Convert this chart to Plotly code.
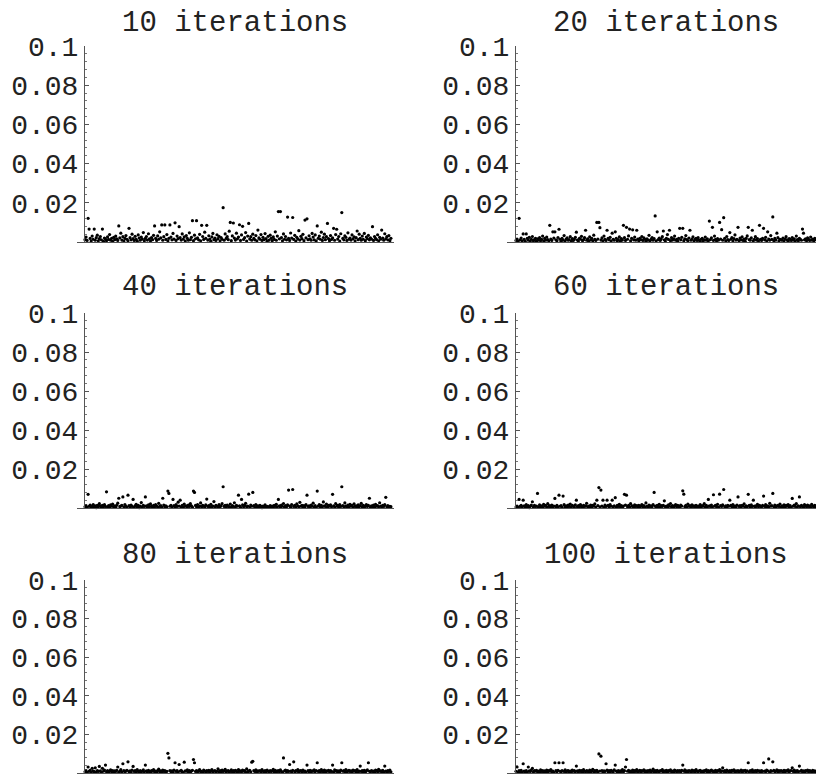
import plotly.graph_objects as go

# Panel titles (number of iterations per run)
titles = ["10 iterations", "20 iterations", "40 iterations",
          "60 iterations", "80 iterations", "100 iterations"]

# Per-sample error values, stored in units of 1e-4
err_10 = [
    12, 25, 8, 121, 66, 18, 5, 30, 14, 66, 9, 22, 35, 6, 17, 28, 11, 66, 4, 20,
    15, 7, 26, 13, 38, 9, 19, 3, 24, 12, 30, 16, 8, 82, 21, 45, 10, 27, 5, 18,
    33, 14, 6, 70, 22, 11, 40, 17, 8, 29, 13, 4, 36, 20, 9, 25, 15, 48, 7, 19,
    28, 10, 42, 16, 5, 23, 12, 34, 82, 18, 8, 31, 14, 52, 21, 87, 9, 27, 87, 13,
    38, 6, 19, 87, 25, 11, 44, 15, 98, 8, 30, 17, 78, 22, 10, 41, 14, 26, 5, 33,
    18, 9, 47, 12, 24, 109, 7, 35, 16, 109, 21, 11, 39, 6, 85, 28, 13, 50, 19, 85,
    10, 32, 15, 4, 26, 44, 12, 20, 8, 37, 17, 29, 6, 23, 14, 175, 9, 41, 18, 27,
    12, 55, 100, 7, 31, 97, 20, 10, 45, 16, 25, 88, 8, 36, 80, 13, 22, 48, 5, 30,
    95, 15, 27, 9, 40, 18, 11, 33, 6, 61, 21, 14, 38, 8, 24, 12, 43, 17, 4, 29,
    10, 35, 19, 7, 26, 13, 52, 9, 30, 155, 16, 155, 22, 6, 41, 14, 28, 11, 127, 18,
    8, 46, 20, 125, 13, 34, 5, 24, 15, 58, 10, 29, 17, 39, 7, 112, 21, 118, 12, 32,
    16, 9, 44, 25, 11, 36, 6, 82, 19, 30, 14, 50, 8, 23, 40, 12, 27, 95, 17, 7,
    33, 13, 21, 70, 9, 38, 65, 15, 28, 5, 42, 150, 18, 11, 31, 24, 8, 47, 14, 20,
    10, 36, 16, 26, 6, 22, 56, 12, 40, 19, 9, 30, 14, 44, 7, 25, 17, 34, 11, 21,
    15, 78, 8, 28, 18, 12, 37, 6, 24, 14, 61, 20, 9, 42, 16, 27, 11, 33, 7, 19,
]

err_20 = [
    8, 15, 4, 121, 11, 20, 6, 41, 13, 3, 41, 18, 9, 24, 5, 14, 28, 7, 12, 19,
    4, 16, 10, 22, 7, 13, 30, 5, 18, 9, 25, 12, 6, 85, 15, 8, 52, 20, 52, 11,
    7, 23, 65, 14, 4, 18, 10, 33, 6, 15, 21, 9, 12, 27, 5, 17, 8, 13, 24, 50,
    10, 5, 19, 14, 29, 7, 12, 22, 60, 9, 16, 4, 26, 11, 18, 6, 35, 13, 8, 100,
    15, 100, 73, 10, 21, 6, 30, 13, 8, 60, 18, 11, 24, 5, 45, 14, 9, 52, 19, 7,
    12, 26, 4, 17, 10, 85, 22, 8, 75, 14, 31, 66, 6, 19, 62, 11, 25, 9, 60, 15,
    5, 18, 12, 28, 8, 21, 14, 4, 16, 10, 34, 7, 13, 23, 9, 17, 133, 6, 52, 12,
    20, 8, 15, 27, 56, 11, 5, 18, 38, 13, 60, 7, 22, 10, 16, 30, 9, 14, 4, 19,
    70, 11, 24, 70, 7, 16, 33, 12, 6, 20, 60, 9, 15, 26, 5, 13, 18, 8, 22, 10,
    4, 14, 19, 7, 11, 25, 9, 16, 6, 107, 12, 21, 75, 8, 30, 13, 5, 17, 10, 100,
    15, 63, 9, 124, 19, 6, 28, 12, 8, 48, 14, 22, 5, 17, 36, 10, 13, 75, 7, 20,
    11, 26, 8, 15, 4, 18, 31, 75, 12, 9, 21, 60, 6, 14, 27, 10, 17, 5, 85, 13,
    8, 19, 70, 11, 24, 6, 52, 15, 9, 33, 13, 128, 7, 18, 10, 45, 22, 5, 14, 12,
    9, 20, 6, 15, 27, 11, 4, 17, 13, 8, 23, 10, 16, 5, 30, 12, 7, 19, 14, 9,
    66, 45, 11, 16, 6, 21, 13, 8, 25, 10, 15, 5, 18, 12, 7, 22, 9, 14, 11, 6,
]

err_40 = [
    6, 12, 3, 70, 9, 15, 4, 8, 18, 5, 11, 2, 14, 7, 22, 10, 4, 13, 6, 17,
    8, 83, 5, 12, 3, 16, 9, 20, 6, 11, 4, 14, 25, 50, 7, 10, 13, 57, 5, 18,
    9, 3, 66, 12, 6, 15, 8, 44, 4, 11, 19, 7, 13, 2, 10, 28, 5, 14, 8, 57,
    11, 4, 16, 7, 21, 9, 3, 13, 6, 18, 10, 5, 24, 8, 12, 4, 50, 15, 7, 11,
    6, 87, 75, 9, 14, 5, 44, 12, 3, 17, 8, 30, 10, 40, 6, 13, 4, 20, 9, 11,
    5, 15, 8, 22, 11, 4, 87, 80, 13, 7, 18, 3, 10, 26, 6, 14, 9, 5, 16, 46,
    8, 12, 4, 19, 7, 10, 33, 5, 14, 9, 3, 17, 6, 11, 22, 109, 8, 13, 4, 15,
    10, 6, 20, 3, 12, 8, 27, 5, 14, 9, 66, 11, 4, 44, 16, 7, 13, 24, 6, 10,
    71, 5, 15, 9, 80, 12, 3, 18, 7, 11, 4, 14, 8, 2, 10, 6, 16, 4, 9, 3,
    7, 12, 5, 10, 3, 14, 8, 19, 6, 44, 11, 4, 15, 9, 23, 5, 12, 7, 16, 92,
    10, 4, 18, 95, 8, 13, 5, 21, 11, 7, 29, 9, 14, 3, 12, 6, 17, 66, 8, 11,
    4, 15, 9, 25, 6, 12, 3, 87, 10, 18, 7, 14, 5, 31, 11, 8, 20, 4, 13, 9,
    16, 6, 70, 11, 5, 22, 9, 14, 3, 17, 8, 109, 12, 7, 26, 10, 4, 15, 6, 19,
    9, 13, 5, 21, 8, 11, 3, 16, 7, 12, 24, 6, 14, 4, 10, 18, 8, 13, 50, 5,
    11, 7, 15, 4, 19, 9, 12, 6, 27, 10, 5, 14, 8, 17, 55, 6, 12, 4, 9, 7,
]

err_60 = [
    5, 10, 3, 44, 8, 14, 6, 40, 11, 4, 17, 7, 12, 2, 9, 15, 32, 5, 13, 8,
    10, 75, 4, 16, 7, 11, 3, 19, 9, 13, 5, 22, 8, 12, 4, 15, 6, 10, 49, 7,
    14, 5, 66, 9, 12, 4, 61, 17, 7, 11, 3, 15, 8, 20, 6, 13, 9, 4, 16, 40,
    7, 12, 5, 18, 9, 3, 14, 8, 11, 24, 6, 10, 4, 15, 7, 13, 9, 21, 5, 40,
    12, 105, 6, 92, 10, 40, 4, 15, 8, 40, 13, 5, 17, 9, 40, 7, 11, 53, 4, 14,
    8, 19, 6, 12, 3, 10, 70, 15, 66, 7, 13, 5, 22, 9, 11, 4, 16, 8, 12, 6,
    14, 3, 10, 18, 7, 12, 5, 26, 9, 4, 15, 8, 11, 6, 17, 80, 10, 3, 13, 7,
    19, 5, 12, 8, 14, 37, 6, 10, 4, 16, 9, 23, 7, 12, 3, 11, 18, 6, 13, 8,
    4, 15, 10, 88, 71, 7, 13, 5, 20, 9, 12, 3, 16, 8, 11, 6, 14, 4, 10, 7,
    17, 5, 12, 9, 22, 6, 14, 3, 44, 11, 8, 15, 5, 68, 10, 13, 7, 19, 4, 71,
    12, 8, 16, 95, 6, 11, 4, 14, 9, 40, 13, 5, 18, 7, 10, 3, 15, 57, 8, 12,
    6, 14, 9, 21, 5, 11, 7, 70, 13, 4, 16, 8, 40, 10, 3, 12, 19, 6, 14, 9,
    5, 13, 61, 8, 17, 4, 11, 7, 24, 9, 12, 75, 6, 15, 3, 10, 14, 8, 20, 5,
    11, 7, 16, 4, 13, 9, 18, 6, 12, 3, 49, 10, 15, 8, 22, 5, 11, 57, 7, 14,
    9, 4, 17, 12, 6, 15, 8, 11, 3, 19, 10, 5, 13, 7, 16, 9, 4, 12, 8, 6,
]

err_80 = [
    6, 12, 4, 31, 9, 14, 3, 24, 10, 7, 27, 5, 13, 8, 34, 11, 4, 24, 9, 15,
    41, 6, 12, 3, 10, 16, 7, 13, 5, 11, 8, 14, 31, 4, 9, 17, 6, 48, 12, 5,
    10, 14, 58, 7, 11, 3, 15, 34, 8, 12, 5, 18, 9, 4, 13, 7, 10, 16, 6, 41,
    11, 5, 14, 8, 3, 12, 9, 17, 6, 10, 4, 13, 20, 7, 11, 5, 15, 8, 12, 4,
    9, 102, 78, 13, 6, 11, 4, 15, 53, 8, 12, 5, 44, 10, 14, 7, 3, 56, 11, 9,
    16, 6, 12, 4, 10, 14, 70, 53, 8, 13, 5, 11, 18, 7, 9, 3, 15, 10, 6, 12,
    8, 14, 4, 11, 17, 6, 10, 13, 5, 9, 22, 7, 12, 3, 15, 8, 11, 19, 6, 10,
    13, 4, 9, 16, 7, 12, 5, 14, 10, 3, 18, 8, 11, 6, 15, 9, 13, 4, 21, 7,
    10, 14, 5, 56, 61, 12, 8, 16, 4, 11, 9, 13, 6, 17, 10, 3, 12, 7, 15, 9,
    5, 13, 8, 11, 19, 6, 14, 4, 10, 12, 7, 16, 9, 3, 78, 11, 15, 6, 13, 8,
    44, 10, 5, 14, 58, 7, 12, 9, 17, 4, 11, 13, 6, 15, 8, 10, 3, 41, 12, 7,
    14, 5, 11, 9, 16, 6, 13, 53, 8, 12, 4, 18, 10, 7, 15, 3, 11, 9, 14, 6,
    12, 8, 41, 5, 16, 10, 13, 4, 11, 7, 15, 53, 9, 12, 6, 18, 3, 10, 14, 8,
    11, 5, 15, 9, 13, 6, 17, 4, 10, 36, 8, 12, 7, 14, 3, 11, 16, 53, 9, 6,
    13, 8, 10, 4, 15, 12, 6, 19, 9, 11, 5, 14, 7, 36, 10, 3, 12, 8, 15, 6,
]

err_100 = [
    9, 31, 5, 12, 7, 14, 4, 48, 10, 6, 13, 3, 31, 11, 8, 15, 24, 5, 12, 9,
    14, 6, 10, 4, 16, 8, 12, 3, 11, 7, 15, 5, 13, 9, 18, 6, 10, 4, 53, 12,
    7, 14, 53, 9, 5, 12, 53, 8, 16, 4, 11, 13, 6, 10, 3, 15, 9, 12, 7, 36,
    11, 5, 14, 8, 12, 3, 17, 9, 6, 13, 10, 4, 15, 7, 11, 19, 5, 12, 8, 14,
    6, 99, 10, 87, 13, 4, 11, 8, 48, 15, 7, 12, 3, 14, 9, 5, 16, 41, 10, 7,
    13, 4, 11, 8, 17, 6, 12, 31, 70, 9, 14, 5, 10, 3, 15, 7, 12, 8, 18, 6,
    10, 14, 4, 12, 9, 16, 6, 11, 3, 13, 8, 15, 5, 10, 20, 7, 12, 4, 14, 9,
    6, 13, 10, 17, 5, 11, 8, 14, 3, 12, 9, 16, 7, 10, 4, 15, 11, 6, 13, 8,
    12, 5, 14, 41, 9, 16, 4, 11, 7, 13, 10, 3, 15, 8, 12, 6, 18, 9, 5, 11,
    14, 7, 10, 4, 13, 9, 16, 6, 12, 3, 11, 15, 8, 10, 5, 14, 7, 12, 9, 17,
    6, 11, 27, 8, 13, 4, 15, 10, 7, 12, 3, 14, 9, 16, 5, 11, 8, 13, 6, 10,
    15, 4, 12, 9, 14, 7, 11, 53, 5, 13, 8, 16, 3, 10, 12, 6, 14, 9, 11, 4,
    13, 8, 53, 10, 6, 15, 11, 73, 4, 12, 9, 58, 14, 7, 10, 16, 5, 12, 8, 13,
    10, 4, 14, 7, 12, 9, 16, 5, 11, 13, 27, 8, 15, 3, 10, 12, 6, 36, 9, 14,
    7, 11, 4, 13, 9, 15, 6, 12, 10, 3, 14, 8, 11, 5, 16, 9, 12, 7, 13, 10,
]

y_tick_vals = [0.02, 0.04, 0.06, 0.08, 0.1]
y_tick_text = ["0.02", "0.04", "0.06", "0.08", "0.1"]

series = [err_10, err_20, err_40, err_60, err_80, err_100]

# ---- page geometry (pixels) ----
W, H = 816, 774
FONT = "Liberation Mono, Courier New, monospace"
PX_PER_SAMPLE = 1.023

# column: (x-axis left edge, y-axis position, x-axis right edge)
cols = [(77, 84, 394), (507, 515, 816)]
# row: (pixel of y = 0.1, pixel of y = 0, title centre)
rows = [(46, 242, 23), (313, 508, 287), (580, 773, 555)]

fig = go.Figure()

for k, (title, vals) in enumerate(zip(titles, series)):
    r, c = divmod(k, 2)
    xl, xa, xr = cols[c]
    ytop, ybot, yt = rows[r]
    n = k + 1
    xs = list(range(1, len(vals) + 1))
    ys = [v * 1e-4 for v in vals]
    fig.add_trace(go.Scatter(
        x=xs, y=ys, mode="markers",
        marker=dict(size=3.2, color="black", line=dict(width=0)),
        cliponaxis=False, showlegend=False, hoverinfo="skip",
        xaxis=f"x{n}", yaxis=f"y{n}",
    ))
    x_range = [-(xa - xl) / PX_PER_SAMPLE, (xr - xa) / PX_PER_SAMPLE]
    fig.update_layout(**{
        f"xaxis{n}": dict(
            domain=[xl / W, xr / W], range=x_range, anchor=f"y{n}",
            showgrid=False, zeroline=False, showticklabels=False, ticks="",
            showline=True, linecolor="#555555", linewidth=1.3,
            fixedrange=True, automargin=False,
        ),
        f"yaxis{n}": dict(
            domain=[1 - ybot / H, 1 - ytop / H], range=[0, 0.1],
            anchor="free", position=xa / W,
            showgrid=False, zeroline=False,
            showline=True, linecolor="#555555", linewidth=1,
            tickvals=y_tick_vals, ticktext=y_tick_text,
            ticks="inside", ticklen=4, tickwidth=1, tickcolor="#555555",
            minor=dict(ticks="inside", ticklen=2, dtick=0.004, tick0=0,
                       tickcolor="#777777", tickwidth=1),
            tickfont=dict(family=FONT, size=28, color="#222222"),
            fixedrange=True, automargin=False,
        ),
    })
    fig.add_annotation(
        x=(xa + 151) / W, y=1 - yt / H, xref="paper", yref="paper",
        text=title, showarrow=False, xanchor="center", yanchor="middle",
        font=dict(family=FONT, size=29, color="#222222"),
    )

fig.update_layout(
    width=W, height=H,
    margin=dict(l=0, r=0, t=0, b=0, autoexpand=False),
    paper_bgcolor="white", plot_bgcolor="white",
)

fig.write_html("out.html")
